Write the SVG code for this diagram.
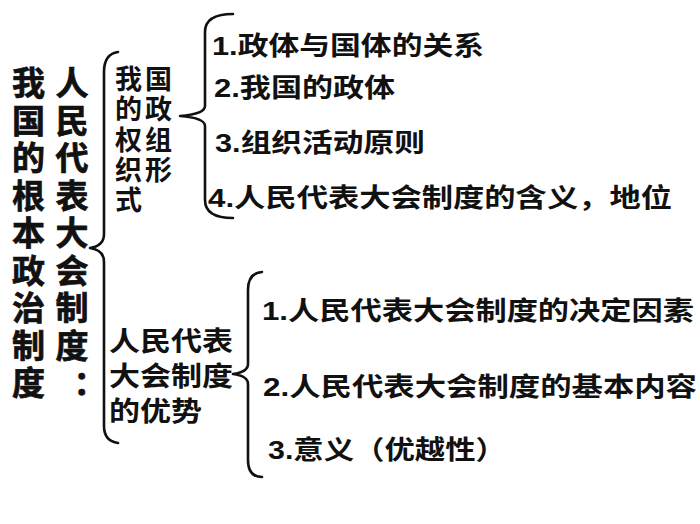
<svg xmlns="http://www.w3.org/2000/svg" width="700" height="524" viewBox="0 0 700 524">
  <style>
    text { font-family: "Liberation Sans", "Noto Sans CJK SC", sans-serif; fill: #111; }
    .col { font-size: 33px; font-weight: bold; text-anchor: middle; font-family: "Noto Sans CJK SC", sans-serif; stroke: #111; stroke-width: 0.7; }
    .mid { font-size: 27px; font-weight: bold; font-family: "Noto Sans CJK SC", sans-serif; }
    .item { font-size: 26px; font-weight: bold; }
    .brace { fill: none; stroke: #111; stroke-width: 2.6; stroke-linecap: round; stroke-linejoin: round; }
  </style>
  <rect width="700" height="524" fill="#ffffff"/>

  <g id="node-root">
    <text class="col"><tspan x="28.5" y="95">我</tspan><tspan x="28.5" y="132.5">国</tspan><tspan x="28.5" y="170">的</tspan><tspan x="28.5" y="207.5">根</tspan><tspan x="28.5" y="245">本</tspan><tspan x="28.5" y="282.5">政</tspan><tspan x="28.5" y="320">治</tspan><tspan x="28.5" y="357.5">制</tspan><tspan x="28.5" y="395">度</tspan></text>
  </g>

  <g id="node-npc">
    <text class="col"><tspan x="72" y="95">人</tspan><tspan x="72" y="132.5">民</tspan><tspan x="72" y="170">代</tspan><tspan x="72" y="207.5">表</tspan><tspan x="72" y="245">大</tspan><tspan x="72" y="282.5">会</tspan><tspan x="72" y="320">制</tspan><tspan x="72" y="357.5">度</tspan><tspan x="90" y="395">：</tspan></text>
  </g>

  <g id="node-form">
    <text class="mid"><tspan x="115" y="88.5">我</tspan><tspan x="145" y="88.5">国</tspan><tspan x="115" y="119">的</tspan><tspan x="145" y="119">政</tspan><tspan x="115" y="149.5">权</tspan><tspan x="145" y="149.5">组</tspan><tspan x="115" y="179.5">织</tspan><tspan x="145" y="179.5">形</tspan><tspan x="115" y="210">式</tspan></text>
  </g>

  <g id="node-advantage">
    <text class="mid" x="109" y="351" textLength="124" lengthAdjust="spacingAndGlyphs">人民代表</text>
    <text class="mid" x="109" y="386" textLength="124" lengthAdjust="spacingAndGlyphs">大会制度</text>
    <text class="mid" x="109" y="420.5" textLength="93" lengthAdjust="spacingAndGlyphs">的优势</text>
  </g>

  <g id="node-form-items">
    <text class="item" x="212" y="55" textLength="272" lengthAdjust="spacingAndGlyphs">1.政体与国体的关系</text>
    <text class="item" x="214" y="97" textLength="181" lengthAdjust="spacingAndGlyphs">2.我国的政体</text>
    <text class="item" x="215" y="152" textLength="210" lengthAdjust="spacingAndGlyphs">3.组织活动原则</text>
    <text class="item" x="208" y="207" textLength="464" lengthAdjust="spacingAndGlyphs">4.人民代表大会制度的含义，地位</text>
  </g>

  <g id="node-advantage-items">
    <text class="item" x="262" y="320" textLength="432" lengthAdjust="spacingAndGlyphs">1.人民代表大会制度的决定因素</text>
    <text class="item" x="263" y="396" textLength="434" lengthAdjust="spacingAndGlyphs">2.人民代表大会制度的基本内容</text>
    <text class="item" x="268" y="459" textLength="238" lengthAdjust="spacingAndGlyphs">3.意义（优越性）</text>
  </g>

  <g id="connectors">
    <path class="brace" d="M118,52 Q104,54 104,72 L104,234 Q104,246 90,248 Q104,250 104,262 L104,426 Q104,441 118,443"/>
    <path class="brace" d="M233,14 Q205,14 205,32 L205,106 Q205,114 180,116 Q205,118 205,126 L205,200 Q205,218 233,218"/>
    <path class="brace" d="M262,272 Q248,273 248,290 L248,364 Q248,372 233,374 Q248,376 248,384 L248,460 Q248,477 262,477"/>
  </g>
</svg>
